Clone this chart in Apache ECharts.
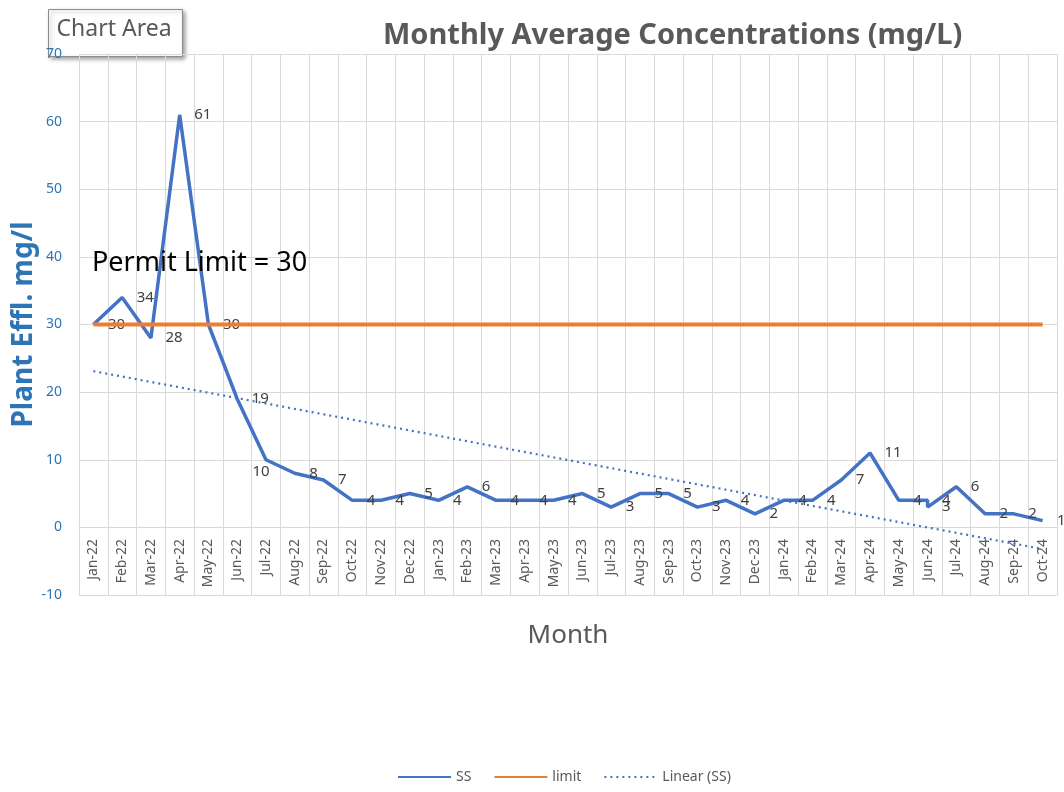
<!DOCTYPE html>
<html>
<head>
<meta charset="utf-8">
<script src="https://cdn.jsdelivr.net/npm/echarts@6/dist/echarts.min.js"></script>
<style>
    html, body { margin: 0; padding: 0; background: #fff; }
    #chartContainer { width: 1064px; height: 792px; }
</style>
</head>
<body>
<div id="chartContainer"></div>
<script>
// month categories on the x axis
const months = [
    'Jan-22', 'Feb-22', 'Mar-22', 'Apr-22', 'May-22', 'Jun-22', 'Jul-22', 'Aug-22', 'Sep-22', 'Oct-22', 'Nov-22', 'Dec-22',
    'Jan-23', 'Feb-23', 'Mar-23', 'Apr-23', 'May-23', 'Jun-23', 'Jul-23', 'Aug-23', 'Sep-23', 'Oct-23', 'Nov-23', 'Dec-23',
    'Jan-24', 'Feb-24', 'Mar-24', 'Apr-24', 'May-24', 'Jun-24', 'Jul-24', 'Aug-24', 'Sep-24', 'Oct-24'
];

// SS samples (Jun-24 has two readings)
const ssMonths = [
    'Jan-22', 'Feb-22', 'Mar-22', 'Apr-22', 'May-22', 'Jun-22', 'Jul-22', 'Aug-22', 'Sep-22', 'Oct-22', 'Nov-22', 'Dec-22',
    'Jan-23', 'Feb-23', 'Mar-23', 'Apr-23', 'May-23', 'Jun-23', 'Jul-23', 'Aug-23', 'Sep-23', 'Oct-23', 'Nov-23', 'Dec-23',
    'Jan-24', 'Feb-24', 'Mar-24', 'Apr-24', 'May-24', 'Jun-24', 'Jun-24', 'Jul-24', 'Aug-24', 'Sep-24', 'Oct-24'
];
const ssValues = [
    30, 34, 28, 61, 30, 19, 10, 8, 7, 4, 4, 5,
    4, 6, 4, 4, 4, 5, 3, 5, 5, 3, 4, 2,
    4, 4, 7, 11, 4, 4, 3, 6, 2, 2, 1
];

const limitValues = [
    30, 30, 30, 30, 30, 30, 30, 30, 30, 30, 30, 30,
    30, 30, 30, 30, 30, 30, 30, 30, 30, 30, 30, 30,
    30, 30, 30, 30, 30, 30, 30, 30, 30, 30
];

// Linear (SS) trendline, end points
const trendMonths = ['Jan-22', 'Oct-24'];
const trendValues = [23.1, -3.2];

const yTicks = { min: -10, max: 70, interval: 10 };

const FONT = '"Noto Sans", "Open Sans", sans-serif';

const chart = echarts.init(document.getElementById('chartContainer'));

const ssData = ssMonths.map((m, i) => {
    const item = { value: [m, ssValues[i]] };
    if (m === 'Jul-22') {
        item.label = { position: 'bottom', distance: 4, offset: [-5, 0] };
    }
    return item;
});

chart.setOption({
    backgroundColor: '#fff',
    animation: false,
    textStyle: { fontFamily: FONT },
    title: {
        text: 'Monthly Average Concentrations (mg/L)',
        left: 378,
        top: 16,
        textStyle: {
            fontFamily: FONT,
            fontSize: 29,
            fontWeight: 'bold',
            color: '#595959'
        }
    },
    legend: {
        data: ['SS', 'limit', 'Linear (SS)'],
        left: 392,
        bottom: 3,
        itemWidth: 53,
        itemHeight: 12,
        itemGap: 22,
        itemStyle: { opacity: 0 },
        textStyle: { fontFamily: FONT, fontSize: 14, color: '#595959' }
    },
    grid: {
        left: 79,
        right: 7,
        top: 54,
        bottom: 197,
        outerBoundsMode: 'none'
    },
    xAxis: {
        type: 'category',
        data: months,
        boundaryGap: true,
        offset: -68,
        name: 'Month',
        nameLocation: 'middle',
        nameGap: 96,
        nameMoveOverlap: false,
        nameTextStyle: { fontFamily: FONT, fontSize: 26, color: '#595959' },
        axisLine: { onZero: false, lineStyle: { color: '#d9d9d9', width: 1 } },
        axisTick: { show: false },
        axisLabel: {
            interval: 0,
            rotate: 90,
            margin: 12,
            fontSize: 14,
            color: '#595959',
            fontFamily: FONT
        },
        splitLine: { show: true, interval: 0, lineStyle: { color: '#d9d9d9', width: 1 } }
    },
    yAxis: {
        type: 'value',
        min: yTicks.min,
        max: yTicks.max,
        interval: yTicks.interval,
        name: 'Plant Effl. mg/l',
        nameLocation: 'middle',
        nameGap: 41,
        nameMoveOverlap: false,
        nameTextStyle: { fontFamily: FONT, fontSize: 28, fontWeight: 'bold', color: '#2E75B6' },
        axisLine: { show: false },
        axisTick: { show: false },
        axisLabel: { fontSize: 14, color: '#2E75B6', margin: 17, fontFamily: FONT },
        splitLine: { lineStyle: { color: '#d9d9d9', width: 1 } }
    },
    series: [
        {
            name: 'SS',
            type: 'line',
            data: ssData,
            symbol: 'circle',
            symbolSize: 1,
            itemStyle: { color: 'rgba(68,114,196,0)', borderWidth: 0 },
            lineStyle: { color: '#4472C4', width: 3.5 },
            label: {
                show: true,
                position: 'right',
                distance: 14,
                fontSize: 15,
                color: '#404040',
                fontFamily: FONT,
                formatter: p => p.value[1]
            },
            z: 2
        },
        {
            name: 'limit',
            type: 'line',
            data: limitValues,
            symbol: 'none',
            itemStyle: { color: '#ED7D31' },
            lineStyle: { color: '#ED7D31', width: 4 },
            z: 3
        },
        {
            name: 'Linear (SS)',
            type: 'line',
            data: trendMonths.map((m, i) => [m, trendValues[i]]),
            symbol: 'none',
            itemStyle: { color: '#4472C4' },
            lineStyle: { color: '#4472C4', width: 2.2, type: [2, 4] },
            z: 4
        }
    ],
    graphic: [
        {
            type: 'text',
            left: 92,
            top: 250,
            style: {
                text: 'Permit Limit = 30',
                fontSize: 27,
                fontFamily: FONT,
                fill: '#000'
            },
            z: 10
        },
        {
            type: 'group',
            left: 48,
            top: 9,
            zlevel: 1,
            children: [
                {
                    type: 'rect',
                    shape: { x: 0, y: 0, width: 134, height: 47 },
                    style: {
                        fill: '#fff',
                        stroke: '#8c8c8c',
                        lineWidth: 1,
                        shadowBlur: 4,
                        shadowOffsetX: 2,
                        shadowOffsetY: 2,
                        shadowColor: 'rgba(0,0,0,0.35)'
                    }
                },
                {
                    type: 'text',
                    x: 8,
                    y: 8,
                    style: {
                        text: 'Chart Area',
                        fontSize: 23,
                        fontFamily: FONT,
                        fill: '#595959'
                    }
                }
            ]
        }
    ]
});

window.addEventListener('resize', () => {
    chart.resize();
});
</script>
</body>
</html>
